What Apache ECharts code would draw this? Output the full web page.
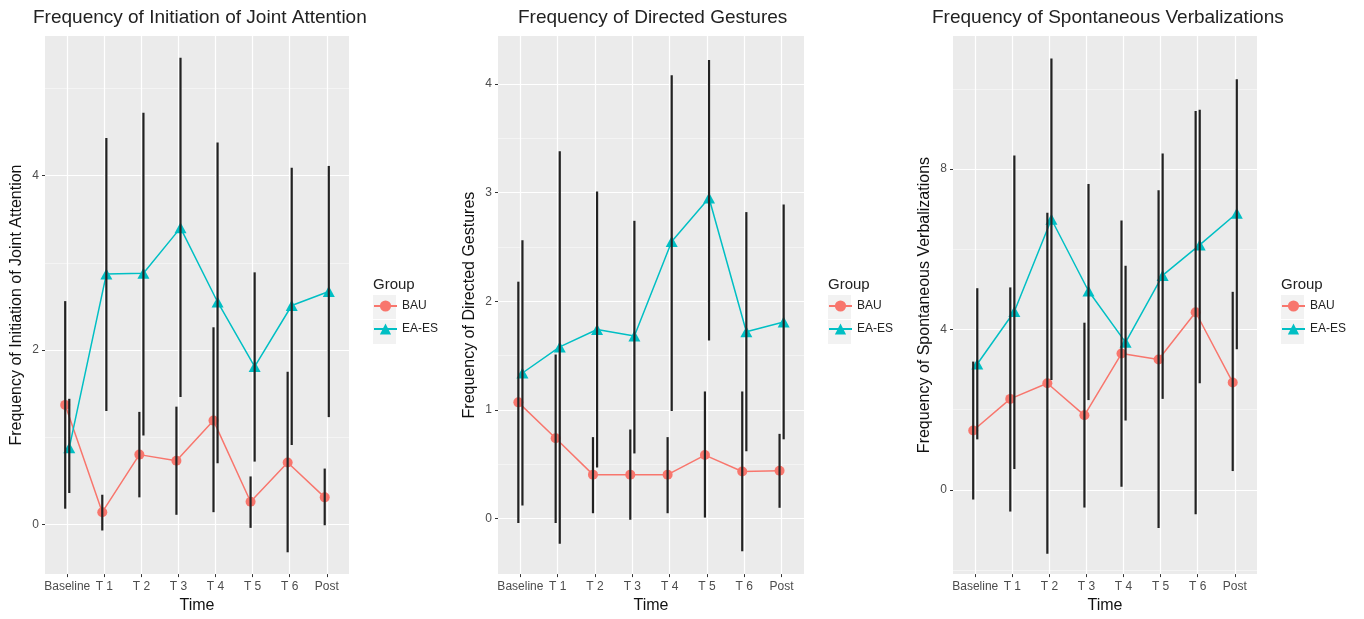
<!DOCTYPE html>
<html>
<head>
<meta charset="utf-8">
<script src="https://cdn.jsdelivr.net/npm/echarts@6/dist/echarts.min.js"></script>
<style>
html,body{margin:0;padding:0;background:#fff;}
#chart{width:1364px;height:619px;}
</style>
</head>
<body>
<div id="chart"></div>
<script>
// ---------- data ----------
const categories = ['Baseline', 'T 1', 'T 2', 'T 3', 'T 4', 'T 5', 'T 6', 'Post'];
const groups = ['BAU', 'EA-ES'];
const panelTitles = ['Frequency of Initiation of Joint Attention', 'Frequency of Directed Gestures', 'Frequency of Spontaneous Verbalizations'];
const yTitles = ['Frequency of Initiation of Joint Attention', 'Frequency of Directed Gestures', 'Frequency of Spontaneous Verbalizations'];

// Panel 1: Initiation of Joint Attention
const jaBauMean = [1.37, 0.14, 0.80, 0.73, 1.19, 0.26, 0.71, 0.31];
const jaBauLow  = [0.18, -0.07, 0.31, 0.11, 0.14, -0.04, -0.32, -0.01];
const jaBauHigh = [2.56, 0.34, 1.29, 1.35, 2.26, 0.55, 1.75, 0.64];
const jaEaMean  = [0.88, 2.87, 2.88, 3.40, 2.55, 1.81, 2.51, 2.67];
const jaEaLow   = [0.36, 1.30, 1.02, 1.46, 0.70, 0.72, 0.91, 1.23];
const jaEaHigh  = [1.44, 4.43, 4.72, 5.35, 4.38, 2.89, 4.09, 4.11];

// Panel 2: Directed Gestures
const dgBauMean = [1.07, 0.74, 0.405, 0.405, 0.405, 0.585, 0.434, 0.44];
const dgBauLow  = [-0.04, -0.04, 0.05, -0.01, 0.05, 0.01, -0.30, 0.10];
const dgBauHigh = [2.18, 1.51, 0.75, 0.82, 0.75, 1.17, 1.17, 0.78];
const dgEaMean  = [1.34, 1.58, 1.74, 1.68, 2.55, 2.95, 1.72, 1.81];
const dgEaLow   = [0.12, -0.23, 0.47, 0.60, 0.99, 1.64, 0.62, 0.73];
const dgEaHigh  = [2.56, 3.38, 3.01, 2.74, 4.08, 4.22, 2.82, 2.89];

// Panel 3: Spontaneous Verbalizations
const svBauMean = [1.48, 2.27, 2.66, 1.86, 3.40, 3.25, 4.43, 2.68];
const svBauLow  = [-0.24, -0.54, -1.59, -0.44, 0.08, -0.95, -0.61, 0.47];
const svBauHigh = [3.20, 5.05, 6.91, 4.17, 6.72, 7.47, 9.45, 4.94];
const svEaMean  = [3.14, 4.45, 6.75, 4.96, 3.68, 5.35, 6.11, 6.90];
const svEaLow   = [1.26, 0.52, 2.74, 2.24, 1.73, 2.27, 2.66, 3.51];
const svEaHigh  = [5.03, 8.34, 10.76, 7.63, 5.59, 8.39, 9.48, 10.24];

// axis ticks
const yMajorTicks = [[0, 2, 4], [0, 1, 2, 3, 4], [0, 4, 8]];
const yMinorTicks = [[1, 3, 5], [0.5, 1.5, 2.5, 3.5], [-2, 2, 6, 10]];

// ---------- layout / style ----------
const yRange = [[-0.57, 5.60], [-0.51, 4.44], [-2.1, 11.32]];
const gridLeft = [45, 498, 953];
const gridWidth = [304, 306, 304];
const gridTop = 36, gridHeight = 543;
const titleLeft = [33, 518, 932];
const DODGE = 0.055;
const colors = ['#F8766D', '#00BFC4'];
const FONT = 'Liberation Sans, Arial, Helvetica, sans-serif';

const panels = [
  [[jaBauMean, jaBauLow, jaBauHigh], [jaEaMean, jaEaLow, jaEaHigh]],
  [[dgBauMean, dgBauLow, dgBauHigh], [dgEaMean, dgEaLow, dgEaHigh]],
  [[svBauMean, svBauLow, svBauHigh], [svEaMean, svEaLow, svEaHigh]]
];

const catIdx = categories.map((c, i) => i);

const grid = [], xAxis = [], yAxis = [], series = [], title = [], legend = [], graphic = [];

panels.forEach((panel, p) => {
  grid.push({left: gridLeft[p], top: gridTop, width: gridWidth[p], height: gridHeight,
    show: true, backgroundColor: '#EBEBEB', borderWidth: 0});

  xAxis.push({
    type: 'value', gridIndex: p, min: -0.6, max: categories.length - 0.4, position: 'bottom',
    axisLine: {show: false, onZero: false},
    axisTick: {show: true, length: 3, lineStyle: {color: '#333', width: 1}, customValues: catIdx},
    axisLabel: {customValues: catIdx, formatter: v => categories[Math.round(v)], color: '#4D4D4D',
      fontSize: 12, margin: 7, fontFamily: FONT},
    splitLine: {show: true, lineStyle: {color: '#FFFFFF', width: 1.2}},
    name: 'Time', nameLocation: 'middle', nameGap: 23,
    nameTextStyle: {fontSize: 16, color: '#111', fontFamily: FONT}
  });

  yAxis.push({
    type: 'value', gridIndex: p, min: yRange[p][0], max: yRange[p][1], position: 'left',
    axisLine: {show: false, onZero: false},
    axisTick: {show: true, length: 3, lineStyle: {color: '#333', width: 1}, customValues: yMajorTicks[p]},
    axisLabel: {customValues: yMajorTicks[p], color: '#4D4D4D', fontSize: 12, margin: 6, fontFamily: FONT},
    splitLine: {show: true, lineStyle: {color: '#FFFFFF', width: 1.2}},
    name: yTitles[p], nameLocation: 'middle', nameGap: 20, nameRotate: 90,
    nameTextStyle: {fontSize: 16, color: '#111', fontFamily: FONT}
  });
  yAxis.push({
    type: 'value', gridIndex: p, min: yRange[p][0], max: yRange[p][1], position: 'left',
    axisLine: {show: false, onZero: false},
    axisTick: {show: false, customValues: yMinorTicks[p]},
    axisLabel: {show: false, customValues: yMinorTicks[p]},
    splitLine: {show: true, lineStyle: {color: '#F8F8F8', width: 0.7}}
  });

  panel.forEach((g, k) => {
    const off = k === 0 ? -DODGE : DODGE;
    const [mean, low, high] = g;
    series.push({
      type: 'line', name: groups[k], xAxisIndex: p, yAxisIndex: 2 * p,
      data: mean.map((v, i) => [i + off, v]),
      symbol: k === 0 ? 'circle' : 'triangle',
      symbolSize: k === 0 ? 10 : [12, 11],
      lineStyle: {color: colors[k], width: 1.5},
      itemStyle: {color: colors[k]},
      z: 3, animation: false, silent: true
    });
    series.push({
      type: 'custom', name: groups[k] + ' error', xAxisIndex: p, yAxisIndex: 2 * p,
      data: mean.map((v, i) => [i + off, low[i], high[i]]),
      encode: {x: 0, y: [1, 2]},
      renderItem: (params, api) => {
        const x = api.value(0);
        const a = api.coord([x, api.value(1)]);
        const b = api.coord([x, api.value(2)]);
        return {type: 'line', shape: {x1: a[0], y1: a[1], x2: b[0], y2: b[1]},
          style: {stroke: '#222222', lineWidth: 2.2}};
      },
      z: 5, animation: false, silent: true
    });
  });

  title.push({text: panelTitles[p], left: titleLeft[p], top: 8, padding: 0,
    textStyle: {fontSize: 19, fontWeight: 'normal', color: '#222', fontFamily: FONT}});
  const legLeft = gridLeft[p] + gridWidth[p] + 24;
  title.push({text: 'Group', left: legLeft, top: 277, padding: 0,
    textStyle: {fontSize: 15, fontWeight: 'normal', color: '#222', fontFamily: FONT}});

  legend.push({
    data: groups, orient: 'vertical', left: legLeft, top: 300, padding: 0,
    itemWidth: 23, itemHeight: 14, itemGap: 11, selectedMode: false,
    textStyle: {fontSize: 12, color: '#222', fontFamily: FONT}
  });
  graphic.push({type: 'rect', left: legLeft, top: 295, shape: {width: 23, height: 24},
    style: {fill: '#F2F2F2'}, z: -1, silent: true});
  graphic.push({type: 'rect', left: legLeft, top: 320, shape: {width: 23, height: 24},
    style: {fill: '#F2F2F2'}, z: -1, silent: true});
});

const chart = echarts.init(document.getElementById('chart'), null, {renderer: 'canvas'});
chart.setOption({
  backgroundColor: '#FFFFFF',
  animation: false,
  textStyle: {fontFamily: FONT},
  title, grid, xAxis, yAxis, series, legend, graphic
});
</script>
</body>
</html>
